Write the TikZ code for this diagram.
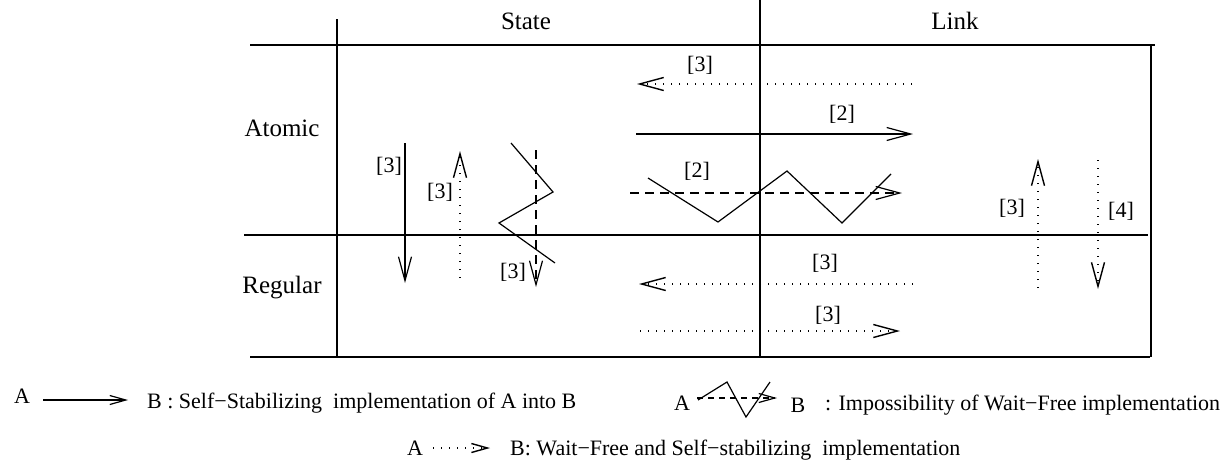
\documentclass[tikz,border=0pt]{standalone}
\usepackage{fontspec}
\setmainfont{Liberation Serif}
\usetikzlibrary{arrows.meta}

\tikzset{
  lbl/.style={inner sep=0pt, anchor=base, font=\fontsize{22}{26}\selectfont},
  hdr/.style={inner sep=0pt, anchor=base, font=\fontsize{25}{30}\selectfont},
  rowrule/.style={line width=2.8pt},
  colrule/.style={line width=1.4pt},
  selfstab/.style={->, line width=1.2pt},
  waitfree/.style={->, line width=1.4pt, dash pattern=on 1.4pt off 6.6pt},
  imposs/.style={->, line width=1.2pt, dash pattern=on 9pt off 6pt},
  zigzag/.style={line width=1.2pt},
  smalltip/.style={>={Straight Barb[length=16pt, width=9pt]}},
}

\begin{document}
\begin{tikzpicture}[x=1pt, y=-1pt, >={Straight Barb[length=24pt, width=13pt]}]
  \useasboundingbox (0,0) rectangle (1227,459);
  % table
  \draw[rowrule] (250,45) -- (1155,45);
  \draw[rowrule] (244,235) -- (1148,235);
  \draw[rowrule] (250,357) -- (1150,357);
  \draw[colrule] (337,19) -- (337,357);
  \draw[colrule] (760,0) -- (760,357);
  \draw[colrule] (1151,45) -- (1151,357);
  \node[hdr] (state) at (526,29) {State};
  \node[hdr] (link) at (955,29) {Link};
  \node[hdr] (atomic) at (282,136) {Atomic};
  \node[hdr] (regular) at (282,293) {Regular};

  % state -> link, atomic row
  \coordinate (als) at (912,84);  \coordinate (ale) at (637,84);
  \draw[waitfree] (als) -- (ale);
  \node[lbl] (ref-als) at (700,71) {[3]};
  \coordinate (sls) at (636,134); \coordinate (sle) at (913,134);
  \draw[selfstab] (sls) -- (sle);
  \node[lbl] (ref-sls) at (842,120) {[2]};
  \coordinate (ils) at (630,193); \coordinate (ile) at (902,193);
  \draw[imposs] (ils) -- (ile);
  \draw[zigzag] (648,178) -- (718,222) -- (787,171) -- (842,223) -- (891,174);
  \node[lbl] (ref-ils) at (697,177) {[2]};

  % state column: atomic <-> regular
  \coordinate (ssd) at (405,143); \coordinate (sse) at (405,283);
  \draw[selfstab] (ssd) -- (sse);
  \node[lbl] (ref-ssd) at (389,172) {[3]};
  \coordinate (swu) at (460,278); \coordinate (swe) at (460,151);
  \draw[waitfree] (swu) -- (swe);
  \node[lbl] (ref-swu) at (440,198) {[3]};
  \coordinate (sid) at (536,150); \coordinate (sie) at (536,287);
  \draw[imposs] (sid) -- (sie);
  \draw[zigzag] (511,143) -- (553,192) -- (499,223) -- (555,263);
  \node[lbl] (ref-sid) at (513,278) {[3]};

  % state <-> link, regular row
  \coordinate (rls) at (913,284); \coordinate (rle) at (639,284);
  \draw[waitfree] (rls) -- (rle);
  \node[lbl] (ref-rls) at (825,269) {[3]};
  \coordinate (rrs) at (640,331); \coordinate (rre) at (900,331);
  \draw[waitfree] (rrs) -- (rre);
  \node[lbl] (ref-rrs) at (828,321) {[3]};

  % link column: atomic <-> regular
  \coordinate (lwu) at (1038,288); \coordinate (lwe) at (1038,159);
  \draw[waitfree] (lwu) -- (lwe);
  \node[lbl] (ref-lwu) at (1012,214) {[3]};
  \coordinate (lwd) at (1098,160); \coordinate (lwf) at (1098,289);
  \draw[waitfree] (lwd) -- (lwf);
  \node[lbl] (ref-lwd) at (1121,217) {[4]};

  % legend
  \node[lbl] (key-a1) at (22,403) {A};
  \coordinate (k1s) at (43,400); \coordinate (k1e) at (128,400);
  \draw[selfstab, smalltip] (k1s) -- (k1e);
  \node[lbl, anchor=base west] (key-t1) at (147,408) {B : Self−Stabilizing\ \ implementation of A into B};
  \node[lbl] (key-a2) at (682,410) {A};
  \coordinate (k2s) at (697,398); \coordinate (k2e) at (777,398);
  \draw[imposs, smalltip, dash pattern=on 6pt off 5pt] (k2s) -- (k2e);
  \draw[zigzag] (698,400) -- (727,382) -- (746,417) -- (770,382);
  \node[lbl] (key-b2) at (798,412) {B};
  \node[lbl, anchor=base west] (key-t2) at (825,410) {: Impossibility of Wait−Free implementation};
  \node[lbl] (key-a3) at (415,455) {A};
  \coordinate (k3s) at (433,448); \coordinate (k3e) at (490,448);
  \draw[waitfree, smalltip] (k3s) -- (k3e);
  \node[lbl, anchor=base west] (key-t3) at (510,455) {B: Wait−Free and Self−stabilizing\ \ implementation};
\end{tikzpicture}
\end{document}
